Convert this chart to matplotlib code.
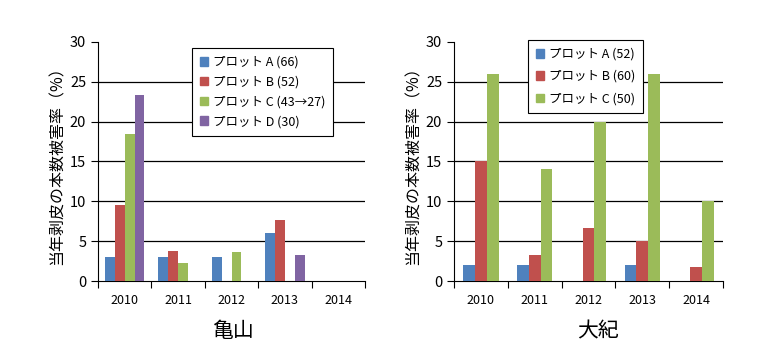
import numpy as np
import matplotlib
matplotlib.use("Agg")
import matplotlib.pyplot as plt
from matplotlib.patches import Patch

plt.rcParams['font.family'] = ['Noto Sans CJK JP', 'DejaVu Sans']

years = ['2010', '2011', '2012', '2013', '2014']

# 亀山
kameyama_labels = ['プロット A (66)', 'プロット B (52)', 'プロット C (43→27)', 'プロット D (30)']
kameyama_a = [3.0, 3.0, 3.0, 6.0, 0.0]
kameyama_b = [9.5, 3.8, 0.0, 7.7, 0.0]
kameyama_c = [18.5, 2.3, 3.7, 0.0, 0.0]
kameyama_d = [23.3, 0.0, 0.0, 3.3, 0.0]

# 大紀
taiki_labels = ['プロット A (52)', 'プロット B (60)', 'プロット C (50)']
taiki_a = [2.0, 2.0, 0.0, 2.0, 0.0]
taiki_b = [15.0, 3.3, 6.7, 5.0, 1.7]
taiki_c = [26.0, 14.0, 20.0, 26.0, 10.0]

colors = ['#4F81BD', '#C0504D', '#9BBB59', '#8064A2']
ylabel = '当年剥皮の本数被害率（%）'


def draw(ax, series, labels, bw, leg_xy, spacing):
    x = np.arange(len(years))
    n = len(series)
    for i, vals in enumerate(series):
        off = (i - (n - 1) / 2) * bw
        ax.bar(x + off, vals, width=bw, color=colors[i], zorder=3)
    ax.set_xlim(-0.5, len(years) - 0.5)
    ax.set_ylim(0, 30)
    ax.set_yticks(range(0, 31, 5))
    for y in range(5, 30, 5):
        ax.axhline(y, color='black', lw=0.9, zorder=1)
    ax.set_xticks(x)
    ax.set_xticklabels(years, fontsize=9)
    ax.set_xticks(np.arange(-0.5, len(years)), minor=True)
    ax.tick_params(axis='x', which='major', length=0, pad=9)
    ax.tick_params(axis='x', which='minor', length=5, direction='out', width=0.8)
    ax.tick_params(axis='y', length=5, direction='out', width=0.8, labelsize=10.5)
    for s in ['top', 'right']:
        ax.spines[s].set_visible(False)
    ax.spines['left'].set_linewidth(0.8)
    ax.spines['bottom'].set_linewidth(0.8)
    ax.set_ylabel(ylabel, fontsize=11.5, labelpad=3)
    handles = [Patch(color=colors[i], label=labels[i]) for i in range(n)]
    leg = ax.legend(handles=handles, loc='upper left', bbox_to_anchor=leg_xy,
                    bbox_transform=ax.figure.transFigure,
                    fontsize=9, frameon=True, fancybox=False, framealpha=1,
                    edgecolor='black', handlelength=0.7, handleheight=0.7,
                    handletextpad=0.4, labelspacing=spacing, borderpad=0.6,
                    borderaxespad=0)
    leg.get_frame().set_linewidth(0.8)
    leg.set_zorder(5)


fig = plt.figure(figsize=(7.82, 3.64), dpi=100, facecolor='white')
ax1 = fig.add_axes((0.1253, 0.228, 0.3415, 0.657))
ax2 = fig.add_axes((0.5806, 0.228, 0.344, 0.657))

draw(ax1, [kameyama_a, kameyama_b, kameyama_c, kameyama_d], kameyama_labels,
     0.185, (192 / 782, 1 - 48 / 364), 0.55)
draw(ax2, [taiki_a, taiki_b, taiki_c], taiki_labels,
     0.22, (528 / 782, 1 - 40 / 364), 0.75)

fig.text(233 / 782, 1 - 331 / 364, '亀山', fontsize=15, ha='center', va='center')
fig.text(598 / 782, 1 - 331 / 364, '大紀', fontsize=15, ha='center', va='center')

fig.savefig('out.png', dpi=100, facecolor='white')
